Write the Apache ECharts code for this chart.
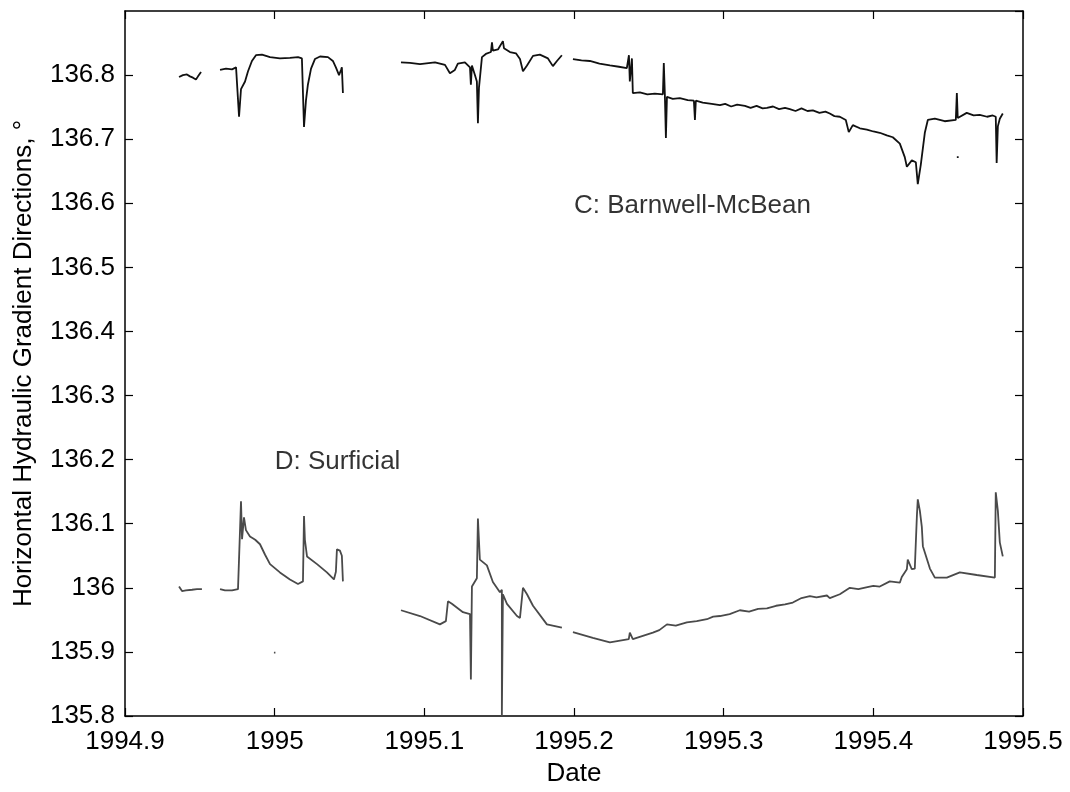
<!DOCTYPE html>
<html>
<head>
<meta charset="utf-8">
<script src="https://cdn.jsdelivr.net/npm/echarts@6/dist/echarts.min.js"></script>
<style>
html,body{margin:0;padding:0;background:#fff;}
#c{width:1070px;height:792px;}
</style>
</head>
<body>
<div id="c"></div>
<script>
// ---- Data: [decimal year, direction in degrees] ----
const xTicks = [1994.9, 1995, 1995.1, 1995.2, 1995.3, 1995.4, 1995.5];
const yTicks = [135.8, 135.9, 136, 136.1, 136.2, 136.3, 136.4, 136.5, 136.6, 136.7, 136.8, 136.9];

// C: Barnwell-McBean
const bmSeg1 = [[1994.9361,136.797],[1994.9387,136.800],[1994.9414,136.801],[1994.9434,136.798],
  [1994.9454,136.796],[1994.9474,136.793],[1994.9488,136.798],[1994.9508,136.805]];
const bmSeg2 = [[1994.9635,136.808],[1994.9675,136.810],[1994.9715,136.809],[1994.9742,136.812],
  [1994.9755,136.810],[1994.9762,136.735],[1994.9768,136.738],[1994.9775,136.778],[1994.9788,136.775],
  [1994.9802,136.790],[1994.9822,136.806],[1994.9848,136.822],[1994.9875,136.831],[1994.9915,136.832],
  [1994.9969,136.828],[1995.0035,136.826],[1995.0102,136.827],[1995.0156,136.828],[1995.0182,136.826],
  [1995.0196,136.719],[1995.0209,136.760],[1995.0222,136.785],[1995.0243,136.810],[1995.0269,136.825],
  [1995.0303,136.829],[1995.0356,136.828],[1995.0389,136.822],[1995.0409,136.812],[1995.0430,136.800],
  [1995.0443,136.808],[1995.0449,136.812],[1995.0456,136.772]];
const bmSeg3 = [[1995.0844,136.820],[1995.0904,136.819],[1995.0971,136.817],[1995.1071,136.820],
  [1995.1138,136.816],[1995.1171,136.803],[1995.1204,136.808],[1995.1224,136.818],[1995.1271,136.820],
  [1995.1305,136.812],[1995.1311,136.785],[1995.1318,136.815],[1995.1338,136.800],[1995.1351,136.790],
  [1995.1358,136.725],[1995.1365,136.780],[1995.1385,136.828],[1995.1411,136.833],[1995.1445,136.836],
  [1995.1452,136.851],[1995.1458,136.838],[1995.1492,136.840],[1995.1525,136.853],[1995.1532,136.842],
  [1995.1572,136.836],[1995.1612,136.834],[1995.1639,136.825],[1995.1659,136.806],[1995.1686,136.815],
  [1995.1726,136.830],[1995.1772,136.832],[1995.1826,136.826],[1995.1859,136.814],[1995.1886,136.822],
  [1995.1919,136.831]];
const bmSeg4 = [[1995.1993,136.825],[1995.2050,136.823],[1995.2106,136.822],[1995.2170,136.818],
  [1995.2240,136.815],[1995.2300,136.813],[1995.2353,136.811],[1995.2367,136.831],[1995.2373,136.790],
  [1995.2387,136.826],[1995.2393,136.772],[1995.2440,136.773],[1995.2490,136.770],[1995.2540,136.771],
  [1995.2594,136.770],[1995.2600,136.819],[1995.2607,136.770],[1995.2614,136.702],[1995.2621,136.766],
  [1995.2660,136.763],[1995.2707,136.764],[1995.2760,136.761],[1995.2801,136.760],[1995.2808,136.730],
  [1995.2814,136.760],[1995.2860,136.757],[1995.2920,136.755],[1995.2975,136.753],[1995.3010,136.755],
  [1995.3050,136.751],[1995.3090,136.754],[1995.3142,136.752],[1995.3180,136.749],[1995.3220,136.752],
  [1995.3260,136.748],[1995.3289,136.749],[1995.3330,136.751],[1995.3370,136.747],[1995.3410,136.749],
  [1995.3442,136.747],[1995.3480,136.744],[1995.3520,136.748],[1995.3560,136.744],[1995.3596,136.745],
  [1995.3640,136.741],[1995.3680,136.743],[1995.3709,136.740],[1995.3740,136.736],[1995.3776,136.735],
  [1995.3816,136.730],[1995.3836,136.711],[1995.3863,136.722],[1995.3910,136.717],[1995.3957,136.715],
  [1995.4000,136.712],[1995.4043,136.710],[1995.4090,136.706],[1995.4130,136.703],[1995.4177,136.693],
  [1995.4210,136.672],[1995.4224,136.657],[1995.4257,136.667],[1995.4284,136.664],[1995.4297,136.630],
  [1995.4317,136.660],[1995.4344,136.710],[1995.4364,136.730],[1995.4411,136.732],[1995.4477,136.728],
  [1995.4551,136.730],[1995.4558,136.772],[1995.4564,136.733],[1995.4624,136.741],[1995.4670,136.737],
  [1995.4711,136.738],[1995.4760,136.735],[1995.4798,136.737],[1995.4818,136.735],[1995.4824,136.663],
  [1995.4832,136.720],[1995.4845,136.732],[1995.4865,136.740]];
const bmDot = [[1995.4558,136.672],[1995.4570,136.672]];

// D: Surficial
const sfSeg1 = [[1994.9361,136.002],[1994.9381,135.995],[1994.9407,135.996],[1994.9448,135.997],
  [1994.9481,135.998],[1994.9514,135.998]];
const sfSeg2 = [[1994.9635,135.998],[1994.9668,135.996],[1994.9715,135.996],[1994.9755,135.998],
  [1994.9768,136.000],[1994.9772,136.114],[1994.9775,136.135],[1994.9782,136.076],[1994.9795,136.110],
  [1994.9808,136.090],[1994.9835,136.080],[1994.9870,136.075],[1994.9902,136.068],[1994.9935,136.052],
  [1994.9969,136.037],[1995.0035,136.024],[1995.0102,136.013],[1995.0156,136.006],[1995.0189,136.010],
  [1995.0196,136.112],[1995.0202,136.075],[1995.0216,136.049],[1995.0283,136.037],[1995.0349,136.024],
  [1995.0396,136.013],[1995.0409,136.025],[1995.0416,136.060],[1995.0436,136.058],[1995.0449,136.050],
  [1995.0456,136.010]];
const sfDot = [[1994.9995,135.899],[1995.0005,135.899]];
const sfSeg3 = [[1995.0844,135.965],[1995.0971,135.956],[1995.1104,135.943],[1995.1144,135.948],
  [1995.1158,135.979],[1995.1184,135.975],[1995.1258,135.962],[1995.1305,135.959],[1995.1311,135.857],
  [1995.1318,136.002],[1995.1351,136.015],[1995.1358,136.108],[1995.1371,136.044],[1995.1418,136.035],
  [1995.1458,136.009],[1995.1505,135.993],[1995.1518,135.997],[1995.1518,135.800],[1995.1525,135.990],
  [1995.1552,135.975],[1995.1619,135.956],[1995.1639,135.953],[1995.1659,136.000],[1995.1686,135.990],
  [1995.1726,135.972],[1995.1819,135.943],[1995.1919,135.938]];
const sfSeg4 = [[1995.1993,135.931],[1995.2126,135.922],[1995.2240,135.915],[1995.2366,135.920],
  [1995.2373,135.930],[1995.2393,135.920],[1995.2460,135.925],[1995.2527,135.930],[1995.2570,135.934],
  [1995.2621,135.943],[1995.2680,135.941],[1995.2754,135.946],[1995.2820,135.948],[1995.2888,135.951],
  [1995.2930,135.955],[1995.2975,135.956],[1995.3040,135.959],[1995.3108,135.965],[1995.3170,135.963],
  [1995.3230,135.967],[1995.3289,135.968],[1995.3350,135.972],[1995.3410,135.974],[1995.3462,135.977],
  [1995.3520,135.984],[1995.3576,135.987],[1995.3620,135.985],[1995.3690,135.988],[1995.3709,135.984],
  [1995.3776,135.990],[1995.3843,136.000],[1995.3900,135.998],[1995.3960,136.001],[1995.4000,136.003],
  [1995.4043,136.002],[1995.4110,136.010],[1995.4177,136.008],[1995.4190,136.017],[1995.4224,136.029],
  [1995.4230,136.044],[1995.4257,136.029],[1995.4277,136.030],[1995.4291,136.112],[1995.4297,136.138],
  [1995.4311,136.120],[1995.4324,136.095],[1995.4331,136.065],[1995.4378,136.030],[1995.4411,136.016],
  [1995.4491,136.016],[1995.4578,136.024],[1995.4691,136.020],[1995.4812,136.016],[1995.4818,136.149],
  [1995.4832,136.120],[1995.4845,136.071],[1995.4865,136.049]];

const noteText = ['C: Barnwell-McBean', 'D: Surficial'];
const noteX = [1995.2, 1995.0];
const noteY = [136.596, 136.197];

function joinSegs(segs) {
  const out = [];
  segs.forEach((s, i) => { if (i) out.push([null, null]); s.forEach(p => out.push(p)); });
  return out;
}

const FONT = 'Liberation Sans, Arial, sans-serif';
const FS = 26;
const chart = echarts.init(document.getElementById('c'), null, {renderer: 'canvas'});

const axisLineStyle = {show: true, lineStyle: {color: '#000', width: 1.5}};
const tick = {show: true, inside: true, length: 8, lineStyle: {color: '#000', width: 1.2}};
const fmt = v => String(Math.round(v * 10) / 10);
const xMin = xTicks[0], xMax = xTicks[xTicks.length - 1];
const yMin = yTicks[0], yMax = yTicks[yTicks.length - 1];

chart.setOption({
  animation: false,
  backgroundColor: '#fff',
  grid: {left: 125, right: 47, top: 11, bottom: 75, containLabel: false},
  xAxis: [{
    type: 'value', min: xMin, max: xMax, interval: 0.1,
    axisLine: axisLineStyle, axisTick: tick, splitLine: {show: false},
    axisLabel: {color: '#000', fontSize: FS, fontFamily: FONT, margin: 13, formatter: fmt},
    name: 'Date', nameLocation: 'middle', nameGap: 45,
    nameTextStyle: {color: '#000', fontSize: FS, fontFamily: FONT}
  }, {
    type: 'value', position: 'top', min: xMin, max: xMax, interval: 0.1,
    axisLine: axisLineStyle, axisTick: tick, axisLabel: {show: false}, splitLine: {show: false}
  }],
  yAxis: [{
    type: 'value', min: yMin, max: yMax, interval: 0.1,
    axisLine: axisLineStyle, axisTick: tick, splitLine: {show: false},
    axisLabel: {color: '#000', fontSize: FS, fontFamily: FONT, margin: 10, showMaxLabel: false, formatter: fmt},
    name: 'Horizontal Hydraulic Gradient Directions, \u00b0', nameLocation: 'middle', nameGap: 88,
    nameTextStyle: {color: '#000', fontSize: FS, fontFamily: FONT}
  }, {
    type: 'value', position: 'right', min: yMin, max: yMax, interval: 0.1,
    axisLine: axisLineStyle, axisTick: tick, axisLabel: {show: false}, splitLine: {show: false}
  }],
  series: [{
    type: 'line', name: 'C: Barnwell-McBean',
    data: joinSegs([bmSeg1, bmSeg2, bmSeg3, bmSeg4, bmDot]),
    showSymbol: false, connectNulls: false,
    lineStyle: {color: '#111', width: 1.8}
  }, {
    type: 'line', name: 'D: Surficial',
    data: joinSegs([sfSeg1, sfSeg2, sfDot, sfSeg3, sfSeg4]),
    showSymbol: false, connectNulls: false,
    lineStyle: {color: '#4a4a4a', width: 1.8}
  }, {
    type: 'scatter', symbolSize: 0, silent: true,
    data: noteX.map((x, i) => ({value: [x, noteY[i]], name: noteText[i]})),
    label: {show: true, position: 'right', distance: 0, formatter: p => p.name,
      color: '#000', fontSize: FS, fontFamily: FONT}
  }]
});
</script>
</body>
</html>
